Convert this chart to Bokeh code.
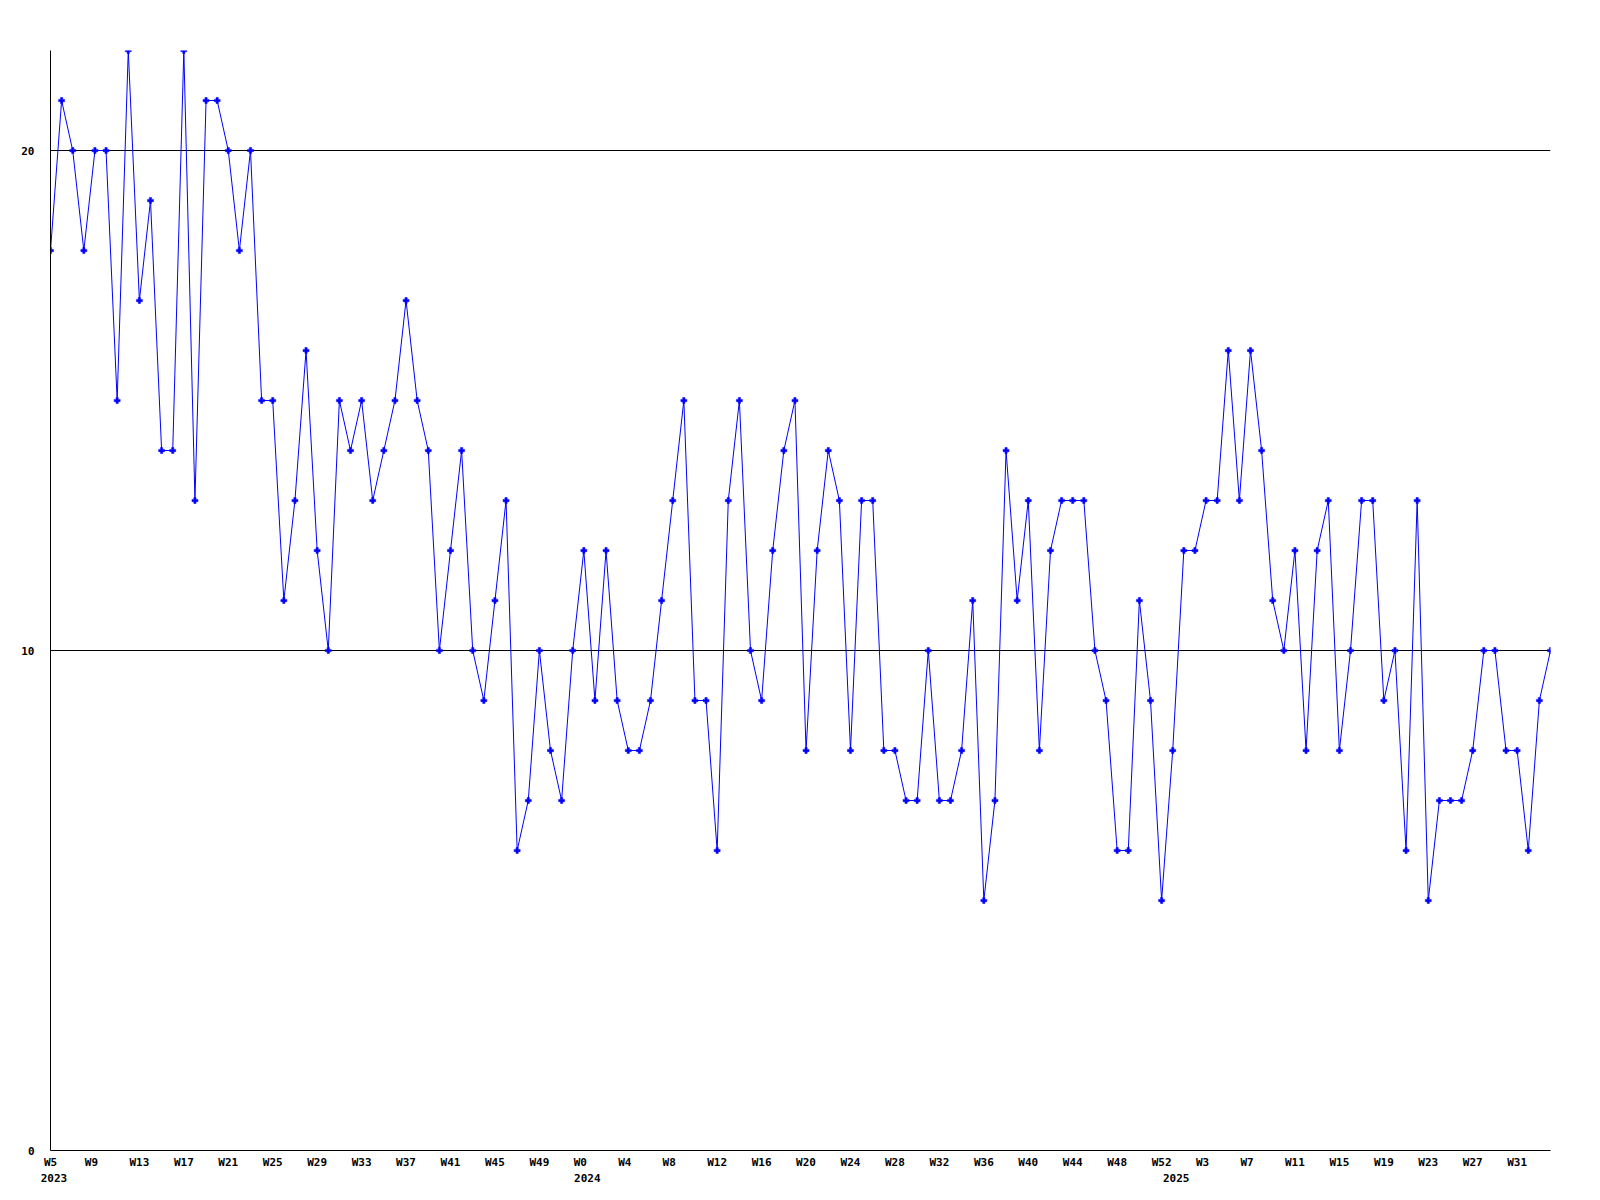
from bokeh.plotting import figure
from bokeh.models import Range1d, FixedTicker, LinearAxis
from bokeh.embed import file_html
from bokeh.resources import INLINE

# Week labels (categories): 2023 W5..W52, 2024 W0..W52, 2025 W0..W34
years = [2023, 2024, 2025]
first_week = [5, 0, 0]
last_week = [52, 52, 34]

values = [
    18, 21, 20, 18, 20, 20, 15, 22, 17, 19, 14, 14, 22, 13, 21, 21, 20, 18, 20, 15,
    15, 11, 13, 16, 12, 10, 15, 14, 15, 13, 14, 15, 17, 15, 14, 10, 12, 14, 10, 9,
    11, 13, 6, 7, 10, 8, 7, 10, 12, 9, 12, 9, 8, 8, 9, 11, 13, 15, 9, 9,
    6, 13, 15, 10, 9, 12, 14, 15, 8, 12, 14, 13, 8, 13, 13, 8, 8, 7, 7, 10,
    7, 7, 8, 11, 5, 7, 14, 11, 13, 8, 12, 13, 13, 13, 10, 9, 6, 6, 11, 9,
    5, 8, 12, 12, 13, 13, 16, 13, 16, 14, 11, 10, 12, 8, 12, 13, 8, 10, 13, 13,
    9, 10, 6, 13, 5, 7, 7, 7, 8, 10, 10, 8, 8, 6, 9, 10,
]

y_ticks = [0, 10, 20]
grid_values = [10, 20]

week_labels = []
year_starts = {}
for yr, w0, w1 in zip(years, first_week, last_week):
    year_starts[len(week_labels)] = str(yr)
    for w in range(w0, w1 + 1):
        week_labels.append("W%d" % w)

xs = list(range(len(values)))

W, H = 1600, 1200
BL, BR, BT, BB = 50, 50, 50, 50
p = figure(width=W, height=H, output_backend="svg", toolbar_location=None,
           x_range=Range1d(0, len(values) - 1), y_range=Range1d(0, 22),
           min_border_left=BL, min_border_right=BR, min_border_top=BT, min_border_bottom=BB,
           background_fill_color="white", border_fill_color="white")
p.outline_line_color = None

px_per_unit = (W - BL - BR) / (len(values) - 1)
CHAR_W = 7.0
LEFT_PAD = 10.5

def shifted(idx, label):
    t = idx + (CHAR_W * len(label) / 2 - LEFT_PAD) / px_per_unit
    return round(max(t, 0.0), 4)

wk_ticks = []
wk_over = {}
for i in range(0, len(values), 4):
    t = shifted(i, week_labels[i])
    wk_ticks.append(t)
    wk_over[t] = week_labels[i]

yr_ticks = []
yr_over = {}
for i, lab in year_starts.items():
    t = shifted(i, lab)
    yr_ticks.append(t)
    yr_over[t] = lab

font = "DejaVu Sans Mono"

def style_axis(ax):
    ax.major_tick_line_color = None
    ax.minor_tick_line_color = None
    ax.major_tick_out = 0
    ax.major_tick_in = 0
    ax.minor_tick_out = 0
    ax.minor_tick_in = 0
    ax.major_label_text_font = font
    ax.major_label_text_font_style = "bold"
    ax.major_label_text_font_size = "11px"
    ax.major_label_text_color = "black"
    ax.axis_line_color = "black"
    ax.axis_line_width = 1

xa = p.xaxis[0]
style_axis(xa)
xa.ticker = FixedTicker(ticks=wk_ticks)
xa.major_label_overrides = wk_over
xa.major_label_standoff = 5

ya = p.yaxis[0]
style_axis(ya)
ya.ticker = FixedTicker(ticks=y_ticks)
ya.major_label_standoff = 16

ax2 = LinearAxis(ticker=FixedTicker(ticks=yr_ticks), major_label_overrides=yr_over)
style_axis(ax2)
ax2.axis_line_color = None
ax2.major_label_standoff = 2
p.add_layout(ax2, "below")

p.xgrid.visible = False
p.ygrid[0].ticker = FixedTicker(ticks=grid_values)
p.ygrid[0].grid_line_color = "black"
p.ygrid[0].grid_line_width = 1
p.ygrid[0].grid_line_alpha = 1.0

p.line(xs, values, line_color="#0000ff", line_width=1)
p.scatter(xs, values, marker="plus", size=6, fill_color="#0000ff", line_color="#0000ff", line_width=0.5)

open("out.html", "w").write(file_html(p, INLINE))
